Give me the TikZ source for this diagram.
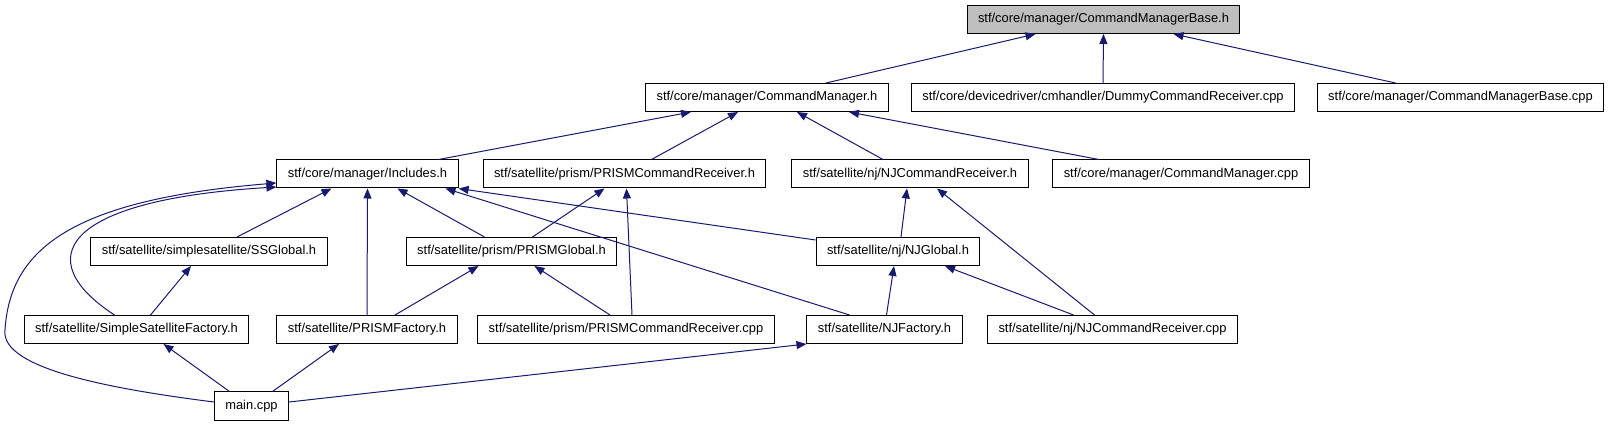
\documentclass[tikz,border=0pt]{standalone}
\usepackage{fontspec}
\setmainfont{Liberation Sans}
\usetikzlibrary{arrows.meta}
\definecolor{edgeblue}{HTML}{191970}
\definecolor{rootgray}{HTML}{BFBFBF}
\begin{document}
\begin{tikzpicture}[x=1pt, y=-1pt,
  box/.style={draw=black, line width=1pt, fill=white, inner xsep=11pt, inner ysep=0pt,
    minimum height=28pt, text height=9.6pt, text depth=2.6pt, font=\fontsize{12.9}{15}\selectfont},
  dep/.style={{Triangle[length=10pt,width=8pt]}-, draw=edgeblue, line width=1pt}]
  \useasboundingbox (0,0) rectangle (1609,427);
  % Row 0: root
  \node[box, fill=rootgray] (base) at (1103.5,19.5) {stf/core/manager/CommandManagerBase.h};
  % Row 1
  \node[box] (cm)      at (767,97.5)    {stf/core/manager/CommandManager.h};
  \node[box] (dummy)   at (1103,97.5)   {stf/core/devicedriver/cmhandler/DummyCommandReceiver.cpp};
  \node[box] (basecpp) at (1460.5,97.5) {stf/core/manager/CommandManagerBase.cpp};
  % Row 2
  \node[box] (incl)    at (367.5,174)   {stf/core/manager/Includes.h};
  \node[box] (prismcr) at (624.5,174)   {stf/satellite/prism/PRISMCommandReceiver.h};
  \node[box] (njcr)    at (910,174)     {stf/satellite/nj/NJCommandReceiver.h};
  \node[box] (cmcpp)   at (1181,174)    {stf/core/manager/CommandManager.cpp};
  % Row 3
  \node[box] (ssg)     at (209,251.5)   {stf/satellite/simplesatellite/SSGlobal.h};
  \node[box] (prismg)  at (511.5,251.5) {stf/satellite/prism/PRISMGlobal.h};
  \node[box] (njg)     at (898,251.5)   {stf/satellite/nj/NJGlobal.h};
  % Row 4
  \node[box] (ssf)        at (136.5,329.5) {stf/satellite/SimpleSatelliteFactory.h};
  \node[box] (prismf)     at (367,329.5)   {stf/satellite/PRISMFactory.h};
  \node[box] (prismcrcpp) at (626,329.5)   {stf/satellite/prism/PRISMCommandReceiver.cpp};
  \node[box] (njf)        at (884.5,329.5) {stf/satellite/NJFactory.h};
  \node[box] (njcrcpp)    at (1112.5,329.5){stf/satellite/nj/NJCommandReceiver.cpp};
  % Row 5
  \node[box] (main) at (251.5,406) {main.cpp};
  % edges into the root and row 1
  \draw[dep] ([xshift=-68pt]base.south) -- ([xshift=59pt]cm.north);
  \draw[dep] (base.south) -- (dummy.north);
  \draw[dep] ([xshift=70pt]base.south) -- ([xshift=-65pt]basecpp.north);
  \draw[dep] ([xshift=-76pt]cm.south) -- ([xshift=71pt]incl.north);
  \draw[dep] ([xshift=-29pt]cm.south) -- ([xshift=27pt]prismcr.north);
  \draw[dep] ([xshift=30pt]cm.south) -- ([xshift=-27pt]njcr.north);
  \draw[dep] ([xshift=82pt]cm.south) -- ([xshift=-82pt]cmcpp.north);
  % edges into Includes.h
  \draw[dep] ([xshift=-36pt]incl.south) -- ([xshift=28pt]ssg.north);
  \draw[dep] (incl.south) -- (prismf.north);
  \draw[dep] ([xshift=30pt]incl.south) -- ([xshift=-27pt]prismg.north);
  \draw[dep] (incl.south east) -- ([yshift=-3pt]njg.north west);
  \draw[dep] ([xshift=78pt]incl.south) -- ([xshift=-35pt]njf.north);
  \draw[dep] ([yshift=-13pt]incl.west) .. controls (60,200) and (30,260) .. ([xshift=-22pt]ssf.north);
  \draw[dep] ([yshift=-9pt]incl.west) .. controls (70,200) and (10,250) .. (5,330)
    .. controls (0,370) and (120,390) .. ([yshift=4pt]main.west);
  % edges into the prism and nj headers
  \draw[dep] ([xshift=-20pt]prismcr.south) -- ([xshift=21pt]prismg.north);
  \draw[dep] ([xshift=2pt]prismcr.south) -- ([xshift=6pt]prismcrcpp.north);
  \draw[dep] ([xshift=-3pt]njcr.south) -- ([xshift=3pt]njg.north);
  \draw[dep] ([xshift=27pt]njcr.south) -- ([xshift=-18pt]njcrcpp.north);
  % edges into row 3
  \draw[dep] ([xshift=-18pt]ssg.south) -- ([xshift=14pt]ssf.north);
  \draw[dep] ([xshift=-33pt]prismg.south) -- ([xshift=28pt]prismf.north);
  \draw[dep] ([xshift=23pt]prismg.south) -- ([xshift=-16pt]prismcrcpp.north);
  \draw[dep] ([xshift=-4pt]njg.south) -- ([xshift=2pt]njf.north);
  \draw[dep] ([xshift=47pt]njg.south) -- ([xshift=-39pt]njcrcpp.north);
  % edges from main.cpp
  \draw[dep] ([xshift=27pt]ssf.south) -- ([xshift=-22pt]main.north);
  \draw[dep] ([xshift=-28pt]prismf.south) -- ([xshift=21pt]main.north);
  \draw[dep] (njf.south west) -- ([yshift=4pt]main.east);
\end{tikzpicture}
\end{document}
